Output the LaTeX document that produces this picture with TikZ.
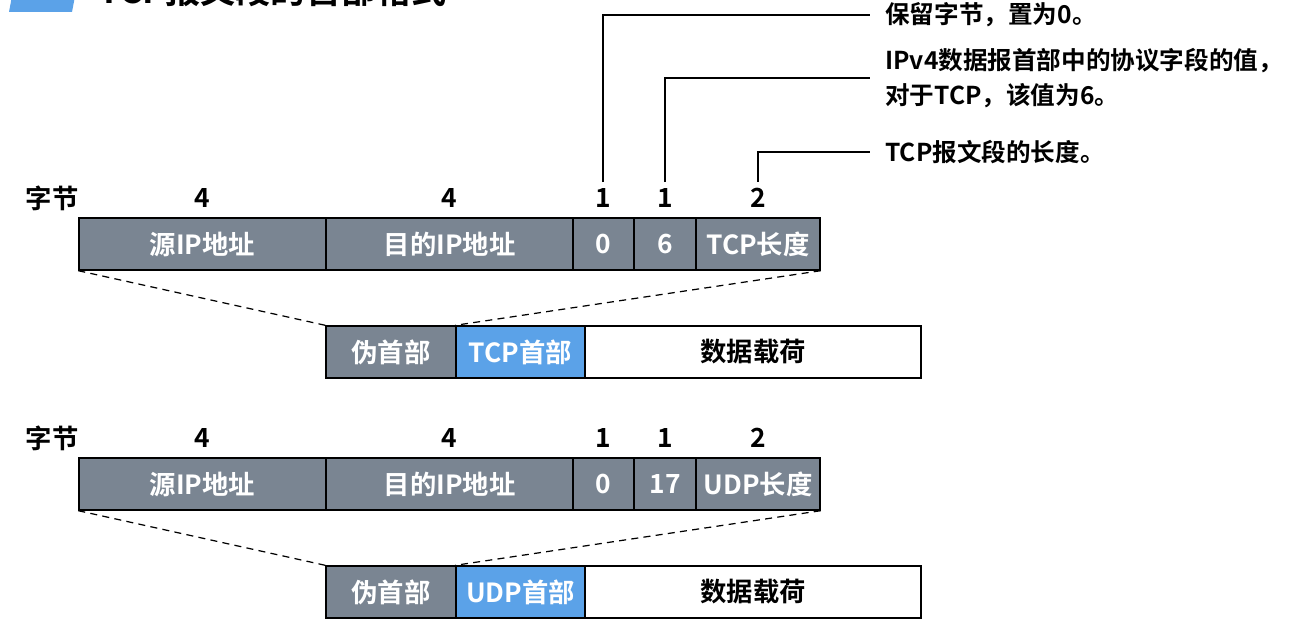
\documentclass[tikz,border=0pt]{standalone}
\usepackage{fontspec}
\setmainfont{Noto Sans CJK SC}[BoldFont={Noto Sans CJK SC Bold}]
\usetikzlibrary{positioning}
\definecolor{slate}{HTML}{7A8592}
\definecolor{tcpblue}{HTML}{5BA2E8}
\tikzset{
	cell/.style={draw=black, thick, fill=slate, text=white, inner sep=0pt,
		minimum height=1.04cm, font=\fontsize{15}{18}\selectfont\bfseries},
	hdr/.style={cell, fill=tcpblue},
	payload/.style={cell, fill=white, text=black},
	num/.style={inner sep=0.12cm, font=\fontsize{15}{17}\selectfont\bfseries},
	note/.style={anchor=west, inner sep=0pt, align=left,
		font=\fontsize{14}{20}\selectfont\bfseries},
	callout/.style={line width=1.4pt},
	guide/.style={dash pattern=on 4pt off 3pt, line width=0.7pt}
}
\begin{document}
\begin{tikzpicture}[x=0.02cm, y=-0.02cm]
	\clip (0,0) rectangle (1300,625);
	\fill[white] (0,0) rectangle (1300,625);
	
	% Title (cut off at the top)
	\fill[tcpblue] (9,12) -- (72,12) -- (80,-30) -- (17,-30) -- cycle;
	\node[anchor=west, font=\fontsize{20}{24}\selectfont\bfseries] (title) at (92,-10) {TCP报文段的首部格式};
	
	% TCP pseudo header
	\node[num] (b1) at (52,198) {字节};
	\node[num] (n1) at (202,198) {4};
	\node[num] (n2) at (449,198) {4};
	\node[num] (n3) at (603,198) {1};
	\node[num] (n4) at (665,198) {1};
	\node[num] (n5) at (758,198) {2};
	
	\node[cell, minimum width=4.94cm] (src1) at (202.5,244) {源IP地址};
	\node[cell, minimum width=4.94cm] (dst1) at (449.5,244) {目的IP地址};
	\node[cell, minimum width=1.22cm] (zero1) at (603.5,244) {0};
	\node[cell, minimum width=1.24cm] (proto1) at (665,244) {6};
	\node[cell, minimum width=2.48cm] (len1) at (758,244) {TCP长度};
	
	\node[cell, minimum width=2.6cm] (pseudo1) at (391,352) {伪首部};
	\node[hdr, minimum width=2.58cm] (head1) at (520.5,352) {TCP首部};
	\node[payload, minimum width=6.72cm] (data1) at (753,352) {数据载荷};
	
	\draw[guide] (src1.south west) -- (pseudo1.north west);
	\draw[guide] (len1.south east) -- (head1.north west);
	
	% Callouts
	\node[note] (note1) at (885,15) {保留字节，置为0。};
	\node[note] (note2) at (885,78) {IPv4数据报首部中的协议字段的值，\\对于TCP，该值为6。};
	\node[note] (note3) at (885,152) {TCP报文段的长度。};
	\draw[callout] (n3.north) |- ([xshift=-0.3cm]note1.west);
	\draw[callout] (n4.north) |- ([xshift=-0.3cm]note2.west);
	\draw[callout] (n5.north) |- ([xshift=-0.3cm]note3.west);
	
	% UDP pseudo header
	\node[num] (b2) at (52,438) {字节};
	\node[num] (m1) at (202,438) {4};
	\node[num] (m2) at (449,438) {4};
	\node[num] (m3) at (603,438) {1};
	\node[num] (m4) at (665,438) {1};
	\node[num] (m5) at (758,438) {2};
	
	\node[cell, minimum width=4.94cm] (src2) at (202.5,484) {源IP地址};
	\node[cell, minimum width=4.94cm] (dst2) at (449.5,484) {目的IP地址};
	\node[cell, minimum width=1.22cm] (zero2) at (603.5,484) {0};
	\node[cell, minimum width=1.24cm] (proto2) at (665,484) {17};
	\node[cell, minimum width=2.48cm] (len2) at (758,484) {UDP长度};
	
	\node[cell, minimum width=2.6cm] (pseudo2) at (391,592) {伪首部};
	\node[hdr, minimum width=2.58cm] (head2) at (520.5,592) {UDP首部};
	\node[payload, minimum width=6.72cm] (data2) at (753,592) {数据载荷};
	
	\draw[guide] (src2.south west) -- (pseudo2.north west);
	\draw[guide] (len2.south east) -- (head2.north west);
\end{tikzpicture}
\end{document}
